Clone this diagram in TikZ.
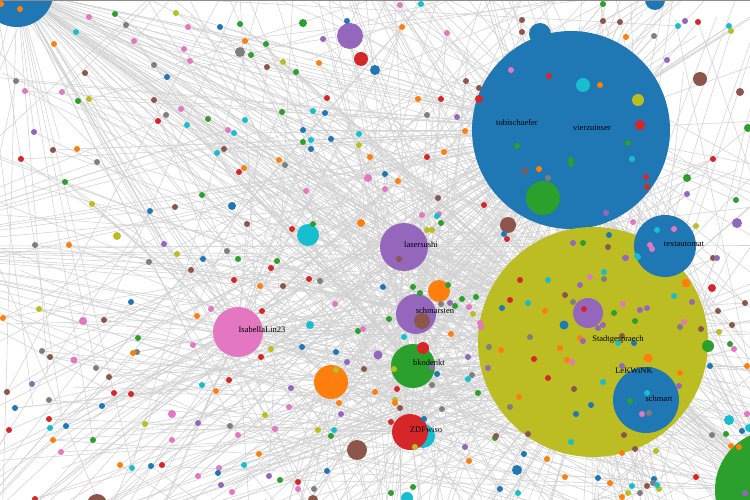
\documentclass[tikz,border=0pt]{standalone}
\usepackage{fontspec}
\setmainfont{Liberation Serif}
\definecolor{cb}{HTML}{1F77B4}
\definecolor{co}{HTML}{FF7F0E}
\definecolor{cg}{HTML}{2CA02C}
\definecolor{cr}{HTML}{D62728}
\definecolor{cp}{HTML}{9467BD}
\definecolor{cbr}{HTML}{8C564B}
\definecolor{cpk}{HTML}{E377C2}
\definecolor{cgy}{HTML}{7F7F7F}
\definecolor{col}{HTML}{BCBD22}
\definecolor{cc}{HTML}{17BECF}
\definecolor{edgegray}{HTML}{D2D2D2}
\tikzset{
  edge/.style={draw=edgegray, line width=0.55pt},
  lbl/.style={font=\fontsize{8.5}{10}\selectfont, inner sep=0pt, text=black},
}
\def\smalldots{89/17/cpk, 115/14/cg, 176/13/col, 126/25/cgy, 188/27/cpk, 220/27/cb, 240/24/cg, 347/21/cb, 76/32/cc, 54/44/co, 134/41/cpk, 184/49/cpk, 245/41/co, 266/44/cg, 251/55/cg, 323/39/cp, 190/61/cpk, 283/62/col, 319/63/co, 267/67/cbr, 296/72/cg, 154/65/cgy, 85/73/cbr, 167/77/cb, 16/81/cgy, 25/91/cpk, 62/92/cpk, 78/101/cg, 89/99/col, 154/100/cbr, 181/109/cpk, 327/98/cr, 166/115/cgy, 158/121/cr, 187/125/cc, 208/119/cg, 245/120/cc, 282/112/cg, 313/111/cc, 325/113/cb, 228/130/cpk, 234/133/cc, 303/130/cb, 303/142/cg, 311/140/cc, 311/149/cb, 331/139/cb, 359/134/cc, 359/145/col, 370/157/co, 34/132/cp, 53/150/cbr, 77/149/co, 21/159/cr, 97/162/cgy, 224/149/cbr, 217/153/cc, 279/160/co, 285/165/cgy, 239/172/cr, 244/168/co, 65/182/cg, 306/191/cpk, 202/195/cg, 92/204/col, 150/211/cb, 175/207/cbr, 247/224/cbr, 292/229/cr, 35/245/cgy, 69/245/co, 164/244/cp, 20/9/co, 1/4/co, 313/224/cg,
177/254/col, 227/251/cgy, 149/262/cgy, 203/259/cb, 238/259/cg, 277/261/cg, 191/270/cbr, 271/268/cr, 234/280/cr, 260/286/co, 283/286/cbr, 309/279/cr, 320/281/cgy, 131/302/cb, 39/309/col, 3/318/co, 104/320/cbr, 211/309/cpk, 197/316/co, 262/311/cr, 335/304/cpk, 358/331/cg, 363/329/cpk, 138/338/cg, 42/351/cgy, 50/357/cbr, 137/352/cgy, 133/353/co, 193/345/cpk, 271/349/col, 261/357/cr, 302/347/cb, 336/352/cb, 347/362/cp, 364/369/cbr, 96/368/cgy, 109/377/cbr, 32/384/cp, 7/392/cbr, 114/393/cr, 131/394/cr, 202/385/cc, 216/391/co, 229/380/cr, 291/388/cp, 15/408/cb, 49/400/cgy, 102/406/cb, 339/403/co, 341/414/cp, 289/407/cpk, 265/415/col, 9/430/cr, 49/419/cr, 50/428/cc, 66/426/cb, 145/424/col, 198/423/cp, 230/426/cgy, 275/429/cpk, 318/430/col, 334/430/cc, 331/436/cg, 53/440/co, 93/440/cg, 172/440/cpk, 238/435/cpk, 61/452/cpk, 259/454/co, 120/465/co, 132/468/cc, 151/466/cb, 162/465/cr, 219/468/cpk, 218/473/cb, 244/465/cc, 269/476/cp, 280/480/cg, 298/482/cr, 298/489/cpk, 314/489/cgy, 327/471/cb, 198/476/cpk, 221/485/cp, 232/492/cpk, 35/499/cr, 336/370/col, 375/392/co,
400/5/cpk, 421/4/cc, 603/4/cg, 402/27/co, 447/33/cpk, 522/20/cbr, 522/32/cbr, 603/21/cbr, 620/22/cbr, 626/37/co, 654/36/cgy, 678/26/cc, 685/21/cp, 698/22/cr, 729/26/cc, 731/31/col, 667/60/cp, 466/81/cbr, 479/88/cbr, 418/99/co, 441/99/cr, 427/115/cgy, 457/117/cp, 465/131/co, 444/152/co, 427/157/cr, 713/159/cr, 687/194/cp, 736/200/cg, 385/174/cb, 398/181/co, 385/189/cpk, 438/198/cbr, 484/205/cr, 422/215/cpk, 439/214/cpk, 437/216/cc, 441/223/cg, 427/230/col, 432/230/col, 504/234/cb, 507/239/cr, 633/222/cpk, 696/226/col,
511/70/cpk, 549/76/cr, 600/85/co, 517/146/cg, 628/143/cg, 632/159/cc, 571/160/cg, 571/164/cg, 525/171/cbr, 539/169/co, 548/178/cgy, 646/177/cr, 647/187/cr, 606/213/cp,
548/280/cc, 520/280/cr, 590/277/cpk, 604/272/cc, 604/279/cgy, 626/258/cp, 637/256/cc, 580/285/cp, 565/295/cbr, 510/300/cr, 528/303/cc, 573/302/cgy, 502/308/cb, 545/311/co, 584/309/cr, 598/328/cp, 603/325/cp, 614/313/cg, 623/304/cpk, 640/310/cp, 647/308/cp, 635/321/cg, 674/296/cc, 692/302/cp, 684/322/cpk, 680/327/cgy, 701/329/cbr, 530/337/cgy, 489/347/cgy, 501/350/co, 560/348/co, 580/338/co, 583/341/cp, 622/336/cbr, 634/343/cb, 618/343/cc, 534/359/cr, 567/360/co, 572/362/cpk, 488/368/cp, 548/378/cr, 622/366/cp, 603/382/cc, 680/373/co, 679/386/cp, 519/397/co, 574/389/cbr, 510/407/cgy, 591/405/cb, 576/414/cb, 528/434/cbr, 624/435/cbr, 571/442/cc, 622/453/co, 635/449/cbr, 656/451/col, 647/393/cc, 630/401/cg, 642/414/cpk, 649/413/cgy, 480/323/cpk, 481/327/cpk, 609/235/cb, 573/243/cp, 583/243/cg, 608/247/cbr, 638/257/cc, 625/258/cp, 657/230/cc, 674/229/cpk, 650/245/cpk, 652/249/cpk, 713/258/cbr, 717/258/cp,
399/259/cbr, 383/287/cb, 413/287/cg, 420/293/cg, 448/285/cg, 441/304/cgy, 450/303/cp, 455/306/cg, 462/299/cg, 476/297/cg, 469/307/cpk, 473/314/col, 451/334/co, 389/319/cg, 404/337/cc, 468/357/cp, 394/369/col, 432/367/cp, 437/374/cb, 472/375/cgy, 468/379/cc, 432/385/cgy, 397/389/cr, 478/393/cg, 395/400/col, 395/403/co, 400/408/cbr, 442/409/cgy, 391/422/cr, 424/419/cb, 415/447/col, 495/438/cg, 496/436/cbr, 465/447/cp, 469/461/co, 524/454/cb, 547/459/co, 565/477/co, 598/478/cb, 610/483/co, 632/486/cc, 647/486/cbr, 654/479/cb, 653/483/cgy, 659/489/col, 657/485/cc, 696/477/cr, 640/493/cgy, 628/493/col, 622/497/co, 518/493/cc, 500/489/cb, 413/487/cg, 391/493/cg, 745/303/cbr, 718/311/cbr, 732/325/cbr, 719/332/col, 730/344/cg, 734/349/cpk, 710/366/cb, 747/366/co, 712/435/cgy, 726/434/cg, 742/431/cb, 747/414/cpk, 739/447/co, 731/446/co, 745/493/cp}
\def\hubx{{571,571,571,571,593,593,593,593,665,646,404,404,416,416,413,413,410,410,238,238,17,17,775,331,-150,900,400,800,300,-100}}
\def\huby{{130,130,130,130,342,342,342,342,246,400,247,247,314,314,366,366,432,432,332,332,-10,-10,490,382,250,600,650,-100,-150,600}}
\begin{document}
\begin{tikzpicture}[x=1pt,y=-1pt]
\useasboundingbox (0,0) rectangle (750,500);
\clip (0,0) rectangle (750,500);
\fill[white] (0,0) rectangle (750,500);
\pgfmathsetseed{12345}
% connectors: each dot to a hub
\foreach \pass in {1,2}{
  \foreach \x/\y/\c in \smalldots {
    \pgfmathrandominteger{\h}{0}{29}
    \pgfmathsetmacro\hx{\hubx[\h]}
    \pgfmathsetmacro\hy{\huby[\h]}
    \draw[edge] (\x,\y) -- (\hx,\hy);
  }
}
% hub edges leaving the frame
\foreach \hx/\hy/\n in {571/130/40, 593/342/70, 665/246/10, 646/400/12, 404/247/15, 416/314/15, 413/366/18, 410/432/25, 238/332/18, 17/-10/20, 775/490/18, 331/382/10}{
  \foreach \k in {1,...,\n}{
    \pgfmathsetmacro\ang{rnd*360}
    \pgfmathsetmacro\dd{150+rnd*500}
    \draw[edge] (\hx,\hy) -- ++(\ang:\dd);
  }
}
% long crossing edges
\foreach \k in {1,...,70}{
  \draw[edge] ({rnd*1150-200},{rnd*900-200}) -- ({rnd*1150-200},{rnd*900-200});
}
% big and medium circles
\foreach \x/\y/\c/\r in {17/-10/cb/37, 540/34/cb/11, 571/130/cb/99, 593/342/col/115, 665/246/cb/31, 646/400/cb/33, 588/313/cp/15, 543/198/cg/17, 775/490/cg/60, 404/247/cp/24, 416/314/cp/20, 422/321/cbr/8, 439/291/co/11, 413/366/cg/22, 423/348/cr/6, 423/436/cc/12, 410/432/cr/18, 331/382/co/17, 357/450/cbr/10, 238/332/cpk/25, 308/235/cc/11, 350/36/cp/13, 361/59/cr/7, 375/70/cb/5, 508/225/cbr/8, 700/79/cbr/7, 737/223/cp/5, 708/346/cg/6, 655/0/cb/10, 583/85/cc/7, 638/100/col/6, 640/125/cr/5, 686/283/co/4.5, 729/420/cc/5, 517/470/cb/5, 407/498/cc/6, 564/325/cb/4.5, 648/358/co/4.5, 712/288/cr/4, 97/504/cbr/10, 313/500/cbr/5, 749/428/cc/4, 303/23/cg/4, 240/52/cgy/5, 368/178/cpk/4, 232/206/cb/4, 361/223/co/4, 117/236/col/4, 83/321/cpk/4, 310/325/cc/4, 172/414/cpk/4, 74/360/cpk/3.5, 740/92/cbr/4, 748/128/cg/4, 479/99/cr/4, 687/178/cg/4, 378/355/cp/4.5}{
  \fill[\c] (\x,\y) circle[radius=\r];
}
% small dots
\foreach \x/\y/\c in \smalldots {
  \fill[\c] (\x,\y) circle[radius=3];
}
% top border
\draw[black!45, line width=1.5pt] (0,0.75) -- (750,0.75);
% labels
\node[lbl] (tobischaefer) at (517,123) {tobischaefer};
\node[lbl] (vierzuinser) at (592,128) {vierzuinser};
\node[lbl] (textautomat) at (684,244) {textautomat};
\node[lbl] (stadtgespraech) at (618,339) {Stadtgespraech};
\node[lbl] (lekwink) at (634,371) {LeKWiNK};
\node[lbl] (schmart) at (659,399) {schmart};
\node[lbl] (lasersushi) at (421,245) {lasersushi};
\node[lbl] (schmarsten) at (435,311) {schmarsten};
\node[lbl] (isabella) at (262,330) {IsabellaLin23};
\node[lbl] (bkodenkt) at (429,363) {bkodenkt};
\node[lbl] (zdfwiso) at (426,430) {ZDFwiso};
\end{tikzpicture}
\end{document}
